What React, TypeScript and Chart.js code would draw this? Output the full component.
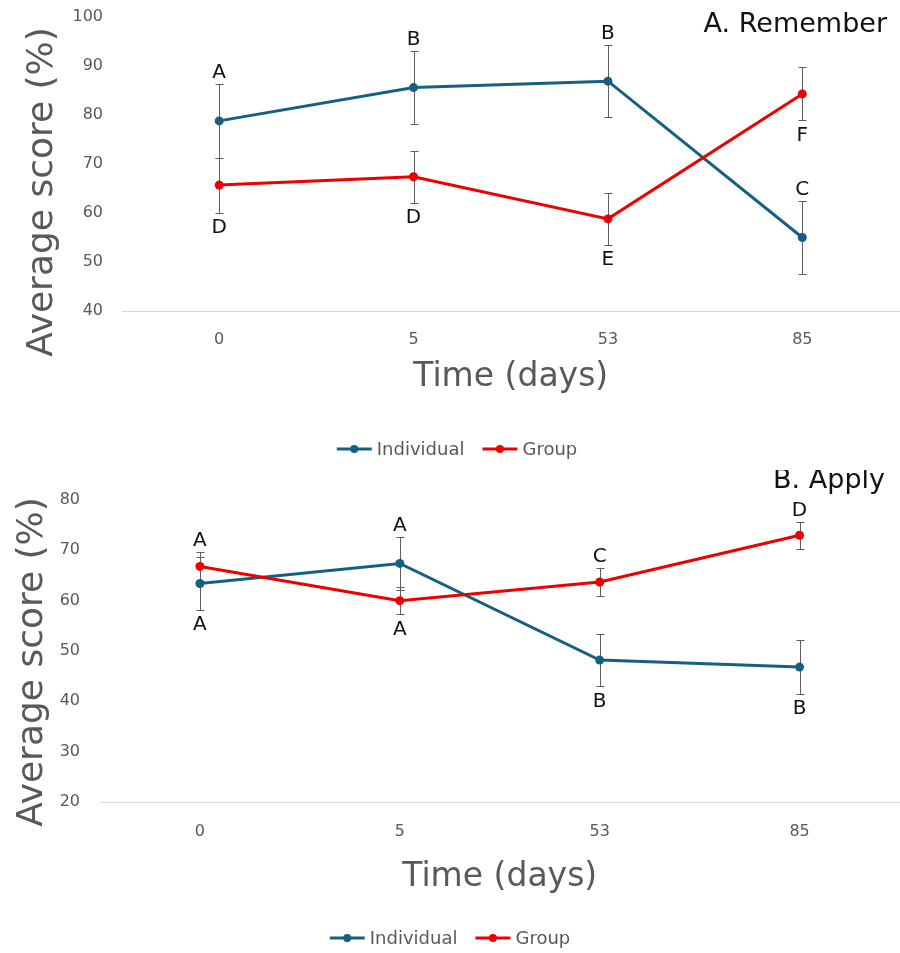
import React, { useEffect, useRef } from 'react';
import { Chart, registerables } from 'chart.js';

Chart.register(...registerables);

// ---------- Data ----------
const days = ['0', '5', '53', '85'];

const rememberIndividual = [78.8, 85.6, 86.9, 55.0];
const rememberIndividualErr = [7.5, 7.4, 7.3, 7.4];
const rememberGroup = [65.7, 67.4, 58.8, 84.3];
const rememberGroupErr = [5.6, 5.3, 5.3, 5.4];
const rememberIndividualLetters = ['A', 'B', 'B', 'C'];
const rememberGroupLetters = ['D', 'D', 'E', 'F'];
const rememberIndividualSide = ['above', 'above', 'above', 'above'];
const rememberGroupSide = ['below', 'below', 'below', 'below'];

const applyIndividual = [63.4, 67.4, 48.2, 46.8];
const applyIndividualErr = [5.2, 5.3, 5.2, 5.3];
const applyGroup = [66.8, 60.0, 63.7, 73.0];
const applyGroupErr = [2.9, 2.7, 2.8, 2.7];
const applyIndividualLetters = ['A', 'A', 'B', 'B'];
const applyGroupLetters = ['A', 'A', 'C', 'D'];
const applyIndividualSide = ['below', 'above', 'below', 'below'];
const applyGroupSide = ['above', 'below', 'above', 'above'];

const seriesNames = ['Individual', 'Group'];

// ---------- Style ----------
const BLUE = '#156082';
const RED = '#EE0000';
const GRAY = '#595959';
const ERR = '#5e5e5e';
const FONT = "'DejaVu Sans', sans-serif";

type PanelCfg = {
  title: string;
  titleRight: number;
  titleBaseline: number;
  height: number;
  padTop: number;
  yMin: number;
  yMax: number;
  yAxisWidth: number;
  yTickPad: number;
  xAxisHeight: number;
  xTickPad: number;
  xTitlePad: number;
  yTitleBaselineX: number;
  yTitleCenterY: number;
  legendY: number;
  legendCX: number;
  values: number[][];
  errors: number[][];
  letters: string[][];
  sides: string[][];
};

const rememberCfg: PanelCfg = {
  title: 'A. Remember',
  titleRight: 887,
  titleBaseline: 32,
  height: 470,
  padTop: 17,
  yMin: 40,
  yMax: 100,
  yAxisWidth: 122,
  yTickPad: 19,
  xAxisHeight: 159,
  xTickPad: 19,
  xTitlePad: 73,
  yTitleBaselineX: 52,
  yTitleCenterY: 192,
  legendY: 449,
  legendCX: 457,
  values: [rememberIndividual, rememberGroup],
  errors: [rememberIndividualErr, rememberGroupErr],
  letters: [rememberIndividualLetters, rememberGroupLetters],
  sides: [rememberIndividualSide, rememberGroupSide],
};

const applyCfg: PanelCfg = {
  title: 'B. Apply',
  titleRight: 885,
  titleBaseline: 18,
  height: 483,
  padTop: 30,
  yMin: 20,
  yMax: 80,
  yAxisWidth: 100,
  yTickPad: 20,
  xAxisHeight: 151,
  xTickPad: 20,
  xTitlePad: 56,
  yTitleBaselineX: 42,
  yTitleCenterY: 192,
  legendY: 468,
  legendCX: 450,
  values: [applyIndividual, applyGroup],
  errors: [applyIndividualErr, applyGroupErr],
  letters: [applyIndividualLetters, applyGroupLetters],
  sides: [applyIndividualSide, applyGroupSide],
};

function makeExtras(cfg: PanelCfg) {
  return {
    id: 'extras',
    beforeDatasetsDraw(chart: any) {
      const ctx = chart.ctx;
      const ys = chart.scales.y;
      ctx.save();
      ctx.strokeStyle = ERR;
      ctx.lineWidth = 1;
      chart.data.datasets.forEach((ds: any, i: number) => {
        const meta = chart.getDatasetMeta(i);
        meta.data.forEach((pt: any, j: number) => {
          const v = ds.data[j];
          const e = cfg.errors[i][j];
          const x = Math.round(pt.x) + 0.5;
          const yt = Math.round(ys.getPixelForValue(v + e)) + 0.5;
          const yb = Math.round(ys.getPixelForValue(v - e)) + 0.5;
          ctx.beginPath();
          ctx.moveTo(x, yt);
          ctx.lineTo(x, yb);
          ctx.moveTo(x - 4, yt);
          ctx.lineTo(x + 4, yt);
          ctx.moveTo(x - 4, yb);
          ctx.lineTo(x + 4, yb);
          ctx.stroke();
        });
      });
      ctx.restore();
    },
    afterDraw(chart: any) {
      const ctx = chart.ctx;
      const ys = chart.scales.y;
      ctx.save();
      // significance letters
      const lf = 20;
      ctx.font = `${lf}px ${FONT}`;
      ctx.fillStyle = '#111';
      ctx.textAlign = 'center';
      ctx.textBaseline = 'alphabetic';
      const capH = 0.729 * lf;
      const gap = 6;
      chart.data.datasets.forEach((ds: any, i: number) => {
        const meta = chart.getDatasetMeta(i);
        meta.data.forEach((pt: any, j: number) => {
          const v = ds.data[j];
          const e = cfg.errors[i][j];
          const letter = cfg.letters[i][j];
          if (cfg.sides[i][j] === 'above') {
            const yt = ys.getPixelForValue(v + e);
            ctx.fillText(letter, pt.x, yt - gap);
          } else {
            const yb = ys.getPixelForValue(v - e);
            ctx.fillText(letter, pt.x, yb + gap + capH);
          }
        });
      });
      // panel title
      ctx.font = `27px ${FONT}`;
      ctx.fillStyle = '#111';
      ctx.textAlign = 'right';
      ctx.fillText(cfg.title, cfg.titleRight, cfg.titleBaseline);
      // y axis title
      ctx.save();
      ctx.translate(cfg.yTitleBaselineX, cfg.yTitleCenterY);
      ctx.rotate(-Math.PI / 2);
      ctx.font = `36px ${FONT}`;
      ctx.fillStyle = GRAY;
      ctx.textAlign = 'center';
      ctx.textBaseline = 'alphabetic';
      ctx.fillText('Average score (%)', 0, 0);
      ctx.restore();
      // legend
      ctx.font = `18px ${FONT}`;
      ctx.textAlign = 'left';
      ctx.textBaseline = 'middle';
      const lineLen = 35;
      const textGap = 5;
      const itemGap = 18;
      const items = chart.data.datasets.map((ds: any) => ({
        label: ds.label,
        color: ds.borderColor,
        w: ctx.measureText(ds.label).width,
      }));
      let total = 0;
      items.forEach((it: any, k: number) => {
        total += lineLen + textGap + it.w + (k < items.length - 1 ? itemGap : 0);
      });
      let x = cfg.legendCX - total / 2;
      const ly = cfg.legendY;
      items.forEach((it: any) => {
        ctx.strokeStyle = it.color;
        ctx.lineWidth = 3;
        ctx.beginPath();
        ctx.moveTo(x, ly);
        ctx.lineTo(x + lineLen, ly);
        ctx.stroke();
        ctx.fillStyle = it.color;
        ctx.beginPath();
        ctx.arc(x + lineLen / 2, ly, 4, 0, Math.PI * 2);
        ctx.fill();
        ctx.fillStyle = GRAY;
        ctx.fillText(it.label, x + lineLen + textGap, ly + 1);
        x += lineLen + textGap + it.w + itemGap;
      });
      ctx.restore();
    },
  };
}

function Panel({ cfg, top }: { cfg: PanelCfg; top: number }) {
  const ref = useRef<HTMLCanvasElement | null>(null);
  useEffect(() => {
    if (!ref.current) return;
    const colors = [BLUE, RED];
    const chart = new Chart(ref.current, {
      type: 'line',
      data: {
        labels: days,
        datasets: cfg.values.map((vals, i) => ({
          label: seriesNames[i],
          data: vals,
          borderColor: colors[i],
          backgroundColor: colors[i],
          pointBackgroundColor: colors[i],
          pointBorderColor: colors[i],
          pointBorderWidth: 0,
          pointRadius: 4.5,
          borderWidth: 3,
          tension: 0,
          fill: false,
          order: i === 0 ? 1 : 0,
        })),
      },
      options: {
        responsive: false,
        animation: false,
        events: [],
        layout: { padding: { top: cfg.padTop, left: 0, right: 0, bottom: 0 } },
        plugins: {
          legend: { display: false },
          tooltip: { enabled: false },
          title: { display: false },
        },
        scales: {
          x: {
            offset: true,
            grid: { display: false, drawTicks: false },
            border: { display: true, color: '#D9D9D9', width: 1 },
            ticks: { color: GRAY, font: { family: FONT, size: 16 }, padding: cfg.xTickPad, maxRotation: 0 },
            title: {
              display: true,
              text: 'Time (days)',
              color: GRAY,
              font: { family: FONT, size: 33 },
              padding: { top: 0, bottom: cfg.xTitlePad },
            },
            afterFit: (s: any) => {
              s.height = cfg.xAxisHeight;
              s.paddingLeft = 0;
              s.paddingRight = 0;
            },
          },
          y: {
            min: cfg.yMin,
            max: cfg.yMax,
            ticks: { stepSize: 10, color: GRAY, font: { family: FONT, size: 16 }, padding: cfg.yTickPad },
            grid: { display: false, drawTicks: false },
            border: { display: false },
            afterFit: (s: any) => {
              s.width = cfg.yAxisWidth;
              s.paddingTop = 0;
              s.paddingBottom = 0;
            },
          },
        },
      },
      plugins: [makeExtras(cfg)],
    } as any);
    return () => chart.destroy();
  }, [cfg]);
  return (
    <div style={{ position: 'absolute', left: 0, top, width: 900, height: cfg.height, overflow: 'hidden' }}>
      <canvas ref={ref} width={904} height={cfg.height} style={{ display: 'block' }} />
    </div>
  );
}

export default function App() {
  return (
    <div
      style={{
        position: 'absolute',
        left: 0,
        top: 0,
        width: 900,
        height: 953,
        overflow: 'hidden',
        background: '#ffffff',
      }}
    >
      <Panel cfg={rememberCfg} top={0} />
      <Panel cfg={applyCfg} top={470} />
    </div>
  );
}
